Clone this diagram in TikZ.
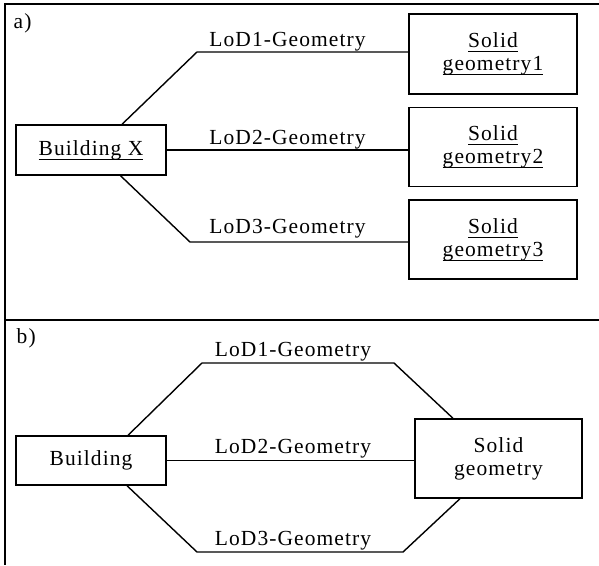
\documentclass[tikz,border=0pt]{standalone}
\usepackage{fontspec}
\setmainfont{Liberation Serif}[LetterSpace=5]
\usetikzlibrary{positioning}
\newcommand{\undl}[1]{\setbox0=\hbox{#1}\rlap{\rule[-4.5pt]{\wd0}{0.9pt}}\box0}

\begin{document}
\begin{tikzpicture}[x=1pt, y=-1pt, node distance=92pt, line width=1.4pt]
    \tikzstyle{box} = [rectangle, draw, minimum width=150pt, minimum height=50pt, align=center, inner sep=0pt, font=\fontsize{21.5}{23}\selectfont]
    \tikzstyle{solidbox} = [box, minimum width=168pt, minimum height=80pt]
    \tikzstyle{lod} = [anchor=base, inner sep=0pt, font=\fontsize{21.5}{23}\selectfont]
    \tikzstyle{frame} = [line width=1.1pt]

    \useasboundingbox (0,0) rectangle (599,565);

    % Frame
    \draw [frame] (599,4) -- (5,4) -- (5,565);
    \draw [frame] (5,320) -- (599,320);
    \node [lod, anchor=base west] (tagA) at (13,28) {a)};
    \node [lod, anchor=base west] (tagB) at (16,343) {b)};

    % Building X
    \node [box] (buildingX) at (91,150) {\undl{Building X}};

    % Solid geometry 2
    \node [solidbox, right of=buildingX, xshift=310pt, yshift=3pt, minimum height=79pt] (solidB) {\undl{Solid}\\\undl{geometry2}};

    % Solid geometry 1
    \node [solidbox, above of=solidB, yshift=1pt] (solidA) {\undl{Solid}\\\undl{geometry1}};

    % Solid geometry 3
    \node [solidbox, below of=solidB, yshift=-0.5pt, minimum height=79pt] (solidC) {\undl{Solid}\\\undl{geometry3}};

    % Building
    \node [box, below of=buildingX, yshift=-218.5pt, minimum height=49pt] (building) {Building};

    % Solid geometry
    \node [solidbox, right of=building, xshift=315.5pt, yshift=2pt, minimum width=167pt, minimum height=79pt] (solid) {Solid\\geometry};

    % Bends
    \coordinate (a1) at (197,52);
    \coordinate (a3) at (190,242);
    \coordinate (b1) at (202,363);
    \coordinate (b2) at (394,363);
    \coordinate (b3) at (197,552);
    \coordinate (b4) at (403,552);

    % Labels
    \node [lod] (lodA1) at (287.5,46) {LoD1-Geometry};
    \node [lod] (lodA2) at (287.5,144) {LoD2-Geometry};
    \node [lod] (lodA3) at (287.5,233) {LoD3-Geometry};
    \node [lod] (lodB1) at (293,356) {LoD1-Geometry};
    \node [lod] (lodB2) at (293,453) {LoD2-Geometry};
    \node [lod] (lodB3) at (293,545) {LoD3-Geometry};

    % Lines a)
    \draw ([xshift=31pt]buildingX.north) -- (a1) -- (a1 -| solidA.west);
    \draw (buildingX.east) -- (buildingX.east -| solidB.west);
    \draw ([xshift=29.5pt]buildingX.south) -- (a3) -- (a3 -| solidC.west);

    % Lines b)
    \draw ([xshift=37pt]building.north) -- (b1) -- (b2) -- ([xshift=-45.5pt]solid.north);
    \draw (building.east) -- (building.east -| solid.west);
    \draw ([xshift=36pt]building.south) -- (b3) -- (b4) -- ([xshift=-38.5pt]solid.south);
\end{tikzpicture}
\end{document}
